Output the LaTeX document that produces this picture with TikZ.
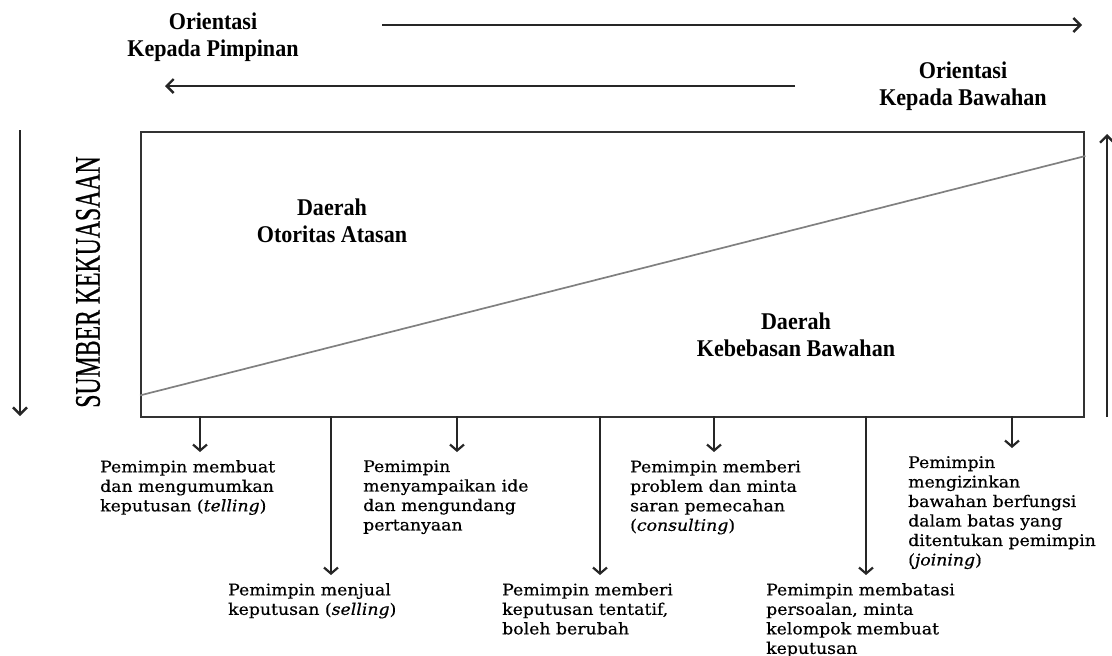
\documentclass[tikz,border=0pt]{standalone}
\usepackage{amsmath, amssymb}
\usepackage{fontspec}
\usetikzlibrary{arrows.meta}
\setmainfont{Liberation Serif}
\newfontfamily\headfont[FakeStretch=0.92]{Liberation Serif}
\newfontfamily\sidefont[FakeStretch=0.66, FakeBold=0.6]{Liberation Serif}
\newfontfamily\notefont[FakeStretch=1.08, FakeBold=0.5]{DejaVu Serif}

\begin{document}
\begin{tikzpicture}[x=1pt, y=-1pt,
    heading/.style={inner sep=0pt, align=center, font=\headfont\bfseries\fontsize{24}{27}\selectfont},
    note/.style={inner sep=0pt, anchor=north west, align=left, font=\notefont\fontsize{16}{19.5}\selectfont},
    frame/.style={line width=2.4pt, draw=black!80},
    pointer/.style={line width=2.2pt, draw=black!85, shorten >=8pt, -{Straight Barb[length=6pt,width=14pt]}},
    longarrow/.style={line width=2.4pt, draw=black!85, -{Straight Barb[length=7pt,width=14pt]}}]
    \useasboundingbox (0,0) rectangle (1112,656);

    % Box and line
    \node[frame, anchor=north west, inner sep=0pt, minimum width=943pt, minimum height=285pt] (box) at (140,131) {};
    \draw[black!50, line width=1.7pt] ([yshift=23pt]box.south west) -- ([yshift=-25pt]box.north east);

    % Headings
    \node[heading] (pimpinan) at (213,37) {Orientasi\\Kepada Pimpinan};
    \node[heading] (bawahan) at (963,86) {Orientasi\\Kepada Bawahan};
    \node[heading] (otoritas) at (332,221) {Daerah\\Otoritas Atasan};
    \node[heading] (kebebasan) at (796,335) {Daerah\\Kebebasan Bawahan};
    \node[inner sep=0pt, rotate=90, font=\sidefont\fontsize{36}{36}\selectfont] (sumber) at (88,282) {SUMBER KEKUASAAN};

    % Outer arrows
    \coordinate (rfrom) at (382,25);
    \coordinate (rto) at (1082,25);
    \coordinate (lfrom) at (795,86);
    \coordinate (lto) at (165,86);
    \coordinate (dfrom) at (20,130);
    \coordinate (dto) at (20,416);
    \coordinate (ufrom) at (1107,417);
    \coordinate (uto) at (1107,134);
    \draw[longarrow] (rfrom) -- (rto);
    \draw[longarrow] (lfrom) -- (lto);
    \draw[longarrow] (dfrom) -- (dto);
    \draw[longarrow] (ufrom) -- (uto);

    % Styles of leadership
    \node[note] (telling) at (100,460) {Pemimpin membuat\\dan mengumumkan\\keputusan (\textit{telling})};
    \node[note] (selling) at (228,583) {Pemimpin menjual\\keputusan (\textit{selling})};
    \node[note] (ide) at (363,460) {Pemimpin\\menyampaikan ide\\dan mengundang\\pertanyaan};
    \node[note] (tentatif) at (502,583) {Pemimpin memberi\\keputusan tentatif,\\boleh berubah};
    \node[note] (consulting) at (630,460) {Pemimpin memberi\\problem dan minta\\saran pemecahan\\(\textit{consulting})};
    \node[note] (membatasi) at (766,583) {Pemimpin membatasi\\persoalan, minta\\kelompok membuat\\keputusan};
    \node[note] (joining) at (908,456) {Pemimpin\\mengizinkan\\bawahan berfungsi\\dalam batas yang\\ditentukan pemimpin\\(\textit{joining})};

    % Edges
    \coordinate (s1) at (200,416);
    \coordinate (s2) at (331,416);
    \coordinate (s3) at (457,416);
    \coordinate (s4) at (600,416);
    \coordinate (s5) at (714,416);
    \coordinate (s6) at (866,416);
    \coordinate (s7) at (1012,416);
    \draw[pointer] (s1) -- (s1 |- telling.north);
    \draw[pointer] (s2) -- (s2 |- selling.north);
    \draw[pointer] (s3) -- (s3 |- ide.north);
    \draw[pointer] (s4) -- (s4 |- tentatif.north);
    \draw[pointer] (s5) -- (s5 |- consulting.north);
    \draw[pointer] (s6) -- (s6 |- membatasi.north);
    \draw[pointer] (s7) -- (s7 |- joining.north);
\end{tikzpicture}
\end{document}
